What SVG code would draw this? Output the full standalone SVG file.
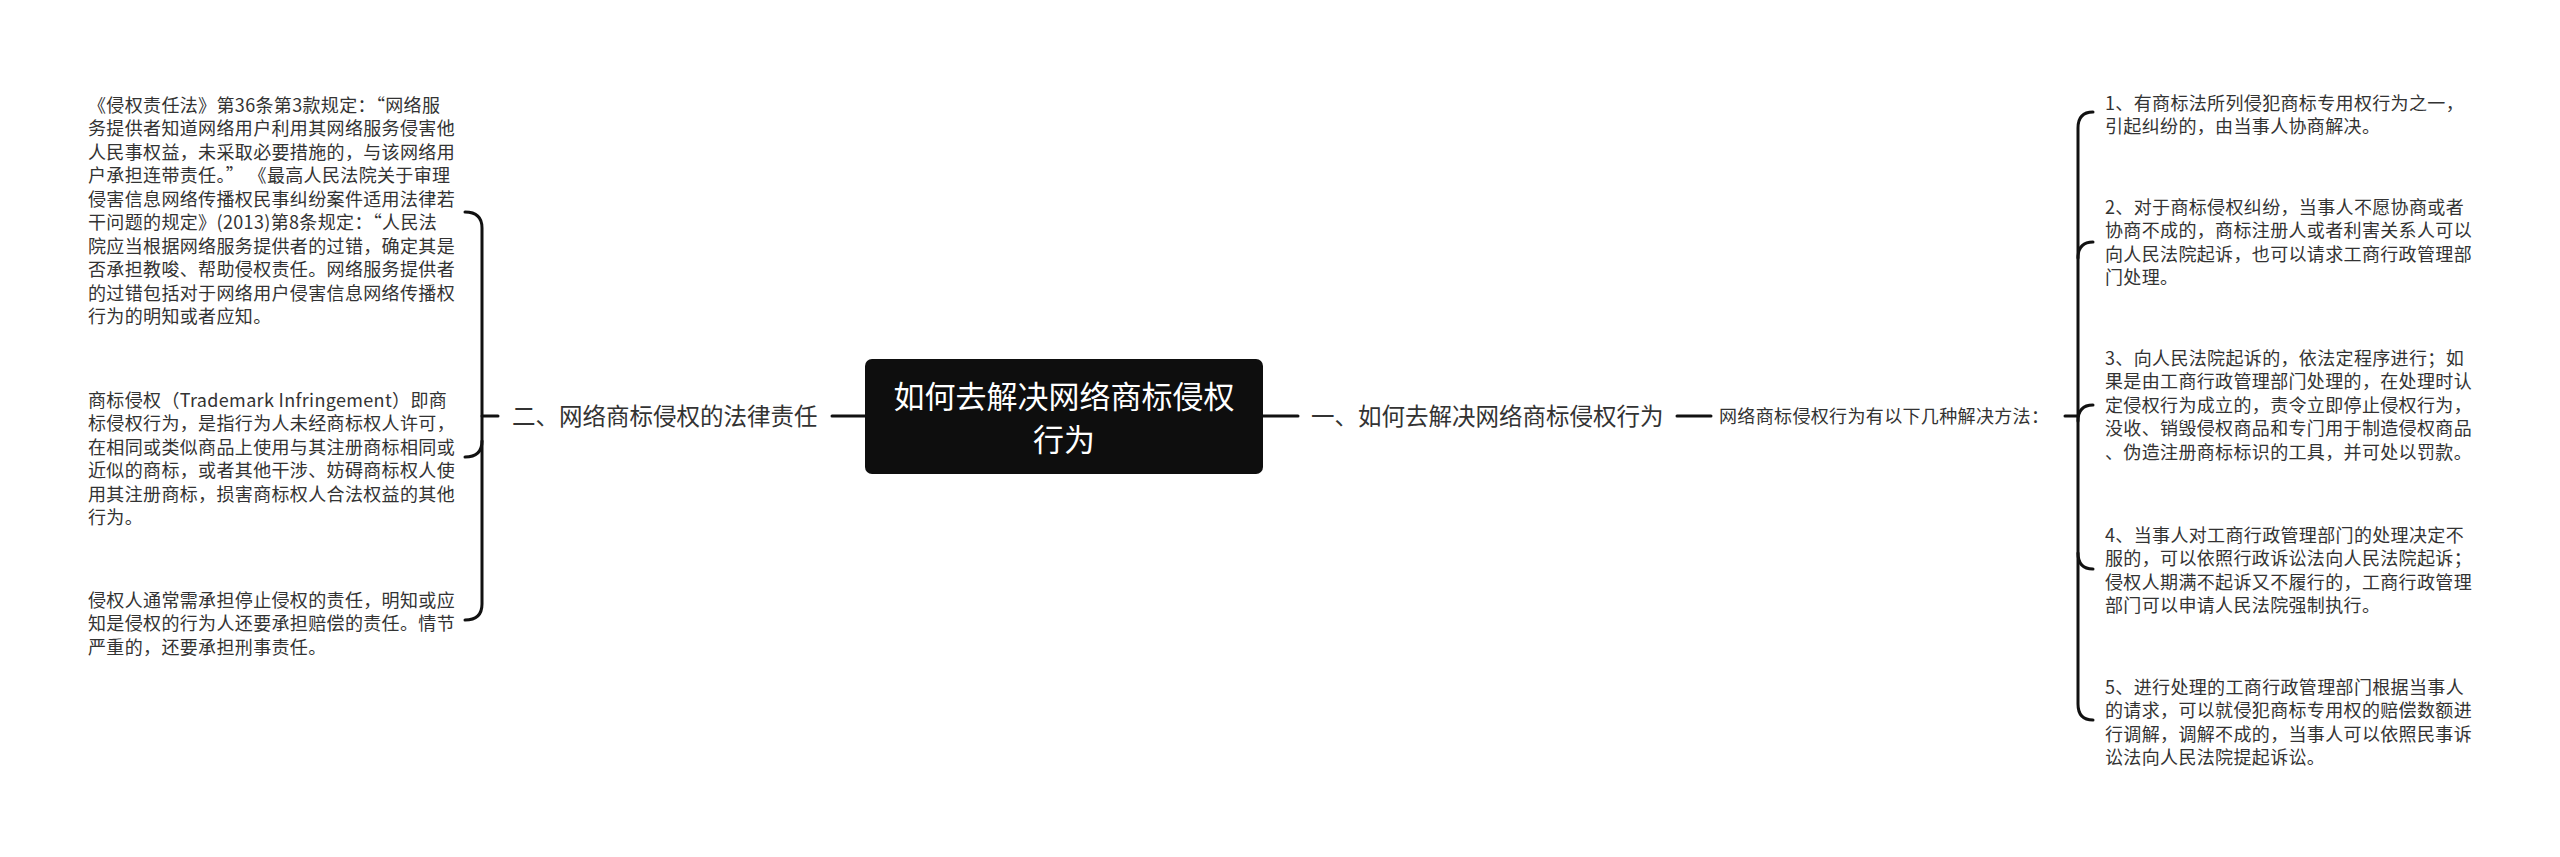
<svg xmlns="http://www.w3.org/2000/svg" width="2560" height="857" viewBox="0 0 2560 857">
<style>
.t{font-family:"Noto Sans CJK SC","Noto Sans",sans-serif;font-size:18px;fill:#333;letter-spacing:0.35px}
.lb{font-family:"Noto Sans CJK SC","Noto Sans",sans-serif;font-size:23.5px;fill:#333}
.rt{font-family:"Noto Sans CJK SC","Noto Sans",sans-serif;font-size:31px;fill:#fff}
.c{fill:none;stroke:#111;stroke-width:3;stroke-linecap:round}
</style>
<rect width="2560" height="857" fill="#fff"/>
<g id="connectors">
<line class="c" x1="832" y1="416" x2="866" y2="416"/>
<line class="c" x1="482" y1="416" x2="498" y2="416"/>
<path class="c" d="M465,212 Q482,212 482,228 L482,604 Q482,620 465,620"/>
<path class="c" d="M465,457 Q482,457 482,441"/>
<line class="c" x1="1262" y1="416" x2="1298" y2="416"/>
<line class="c" x1="1677" y1="416" x2="1711" y2="416"/>
<line class="c" x1="2065" y1="416" x2="2078" y2="416"/>
<path class="c" d="M2093,112 Q2078,112 2078,128 L2078,704 Q2078,720 2093,720"/>
<path class="c" d="M2093,242 Q2078,242 2078,258"/>
<path class="c" d="M2093,405 Q2078,405 2078,421"/>
<path class="c" d="M2093,569 Q2078,569 2078,553"/>
</g>
<g id="root">
<rect x="865" y="359" width="398" height="115" rx="7" fill="#0e0e0e"/>
<text class="rt" text-anchor="middle"><tspan x="1064" y="408">如何去解决网络商标侵权</tspan><tspan x="1064" y="451">行为</tspan></text>
</g>
<g id="n-left">
<text class="lb" x="512" y="425">二、网络商标侵权的法律责任</text>
</g>
<g id="n-right">
<text class="lb" x="1311" y="425">一、如何去解决网络商标侵权行为</text>
</g>
<g id="n-methods">
<text class="t" x="1719" y="423" letter-spacing="0">网络商标侵权行为有以下几种解决方法：</text>
</g>
<g id="l1">
<text class="t"><tspan x="88" y="111.5">《侵权责任法》第36条第3款规定：“网络服</tspan><tspan x="88" y="135">务提供者知道网络用户利用其网络服务侵害他</tspan><tspan x="88" y="158.5">人民事权益，未采取必要措施的，与该网络用</tspan><tspan x="88" y="182">户承担连带责任。” 《最高人民法院关于审理</tspan><tspan x="88" y="205.5">侵害信息网络传播权民事纠纷案件适用法律若</tspan><tspan x="88" y="229">干问题的规定》(2013)第8条规定：“人民法</tspan><tspan x="88" y="252.5">院应当根据网络服务提供者的过错，确定其是</tspan><tspan x="88" y="276">否承担教唆、帮助侵权责任。网络服务提供者</tspan><tspan x="88" y="299.5">的过错包括对于网络用户侵害信息网络传播权</tspan><tspan x="88" y="323">行为的明知或者应知。</tspan></text>
</g>
<g id="l2">
<text class="t"><tspan x="88" y="406.5">商标侵权（Trademark Infringement）即商</tspan><tspan x="88" y="430">标侵权行为，是指行为人未经商标权人许可，</tspan><tspan x="88" y="453.5">在相同或类似商品上使用与其注册商标相同或</tspan><tspan x="88" y="477">近似的商标，或者其他干涉、妨碍商标权人使</tspan><tspan x="88" y="500.5">用其注册商标，损害商标权人合法权益的其他</tspan><tspan x="88" y="524">行为。</tspan></text>
</g>
<g id="l3">
<text class="t"><tspan x="88" y="606.5">侵权人通常需承担停止侵权的责任，明知或应</tspan><tspan x="88" y="630">知是侵权的行为人还要承担赔偿的责任。情节</tspan><tspan x="88" y="653.5">严重的，还要承担刑事责任。</tspan></text>
</g>
<g id="r1">
<text class="t"><tspan x="2105" y="109.5">1、有商标法所列侵犯商标专用权行为之一，</tspan><tspan x="2105" y="133">引起纠纷的，由当事人协商解决。</tspan></text>
</g>
<g id="r2">
<text class="t"><tspan x="2105" y="213.5">2、对于商标侵权纠纷，当事人不愿协商或者</tspan><tspan x="2105" y="237">协商不成的，商标注册人或者利害关系人可以</tspan><tspan x="2105" y="260.5">向人民法院起诉，也可以请求工商行政管理部</tspan><tspan x="2105" y="284">门处理。</tspan></text>
</g>
<g id="r3">
<text class="t"><tspan x="2105" y="364.5">3、向人民法院起诉的，依法定程序进行；如</tspan><tspan x="2105" y="388">果是由工商行政管理部门处理的，在处理时认</tspan><tspan x="2105" y="411.5">定侵权行为成立的，责令立即停止侵权行为，</tspan><tspan x="2105" y="435">没收、销毁侵权商品和专门用于制造侵权商品</tspan><tspan x="2105" y="458.5">、伪造注册商标标识的工具，并可处以罚款。</tspan></text>
</g>
<g id="r4">
<text class="t"><tspan x="2105" y="541.5">4、当事人对工商行政管理部门的处理决定不</tspan><tspan x="2105" y="565">服的，可以依照行政诉讼法向人民法院起诉；</tspan><tspan x="2105" y="588.5">侵权人期满不起诉又不履行的，工商行政管理</tspan><tspan x="2105" y="612">部门可以申请人民法院强制执行。</tspan></text>
</g>
<g id="r5">
<text class="t"><tspan x="2105" y="693.5">5、进行处理的工商行政管理部门根据当事人</tspan><tspan x="2105" y="717">的请求，可以就侵犯商标专用权的赔偿数额进</tspan><tspan x="2105" y="740.5">行调解，调解不成的，当事人可以依照民事诉</tspan><tspan x="2105" y="764">讼法向人民法院提起诉讼。</tspan></text>
</g>
</svg>
